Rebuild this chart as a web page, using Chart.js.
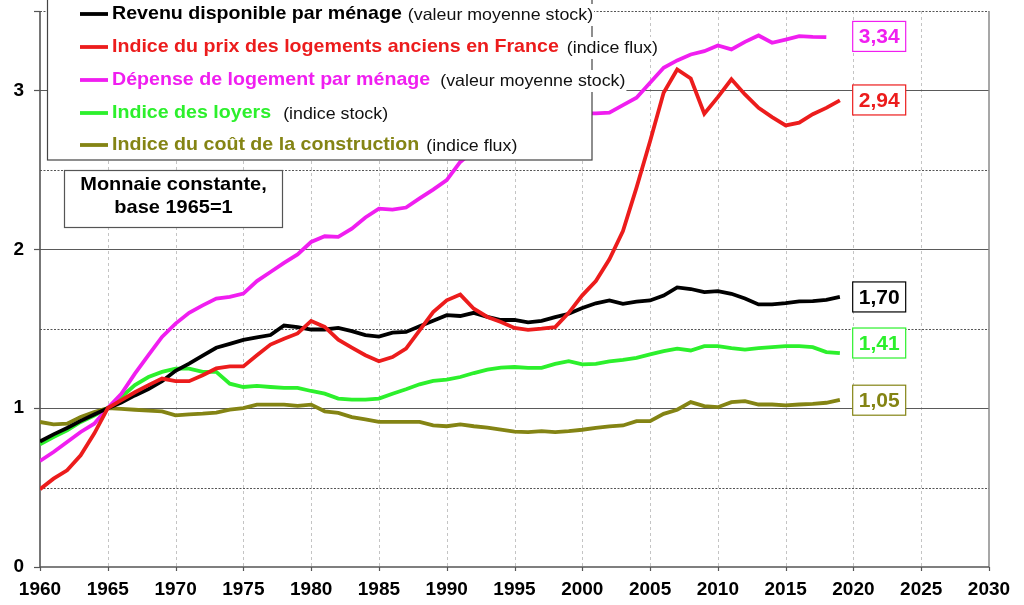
<!DOCTYPE html>
<html><head><meta charset="utf-8">
<script src="https://cdn.jsdelivr.net/npm/chart.js@4.4.0/dist/chart.umd.min.js"></script>
<style>html,body{margin:0;padding:0;background:#fff;overflow:hidden}</style>
</head><body>
<canvas id="c" width="1024" height="605" style="display:block;width:1024px;height:605px"></canvas>
<script>
const years = [1960,1961,1962,1963,1964,1965,1966,1967,1968,1969,
  1970,1971,1972,1973,1974,1975,1976,1977,1978,1979,
  1980,1981,1982,1983,1984,1985,1986,1987,1988,1989,
  1990,1991,1992,1993,1994,1995,1996,1997,1998,1999,
  2000,2001,2002,2003,2004,2005,2006,2007,2008,2009,
  2010,2011,2012,2013,2014,2015,2016,2017,2018,2019];

const revenu = [0.79,0.835,0.875,0.92,0.96,1.00,1.035,1.08,1.12,1.17,
  1.235,1.28,1.33,1.38,1.405,1.43,1.445,1.46,1.52,1.51,
  1.495,1.495,1.505,1.485,1.46,1.45,1.475,1.48,1.515,1.55,
  1.585,1.58,1.60,1.575,1.555,1.556,1.54,1.55,1.573,1.594,
  1.63,1.66,1.678,1.657,1.67,1.678,1.709,1.76,1.75,1.73,
  1.737,1.72,1.69,1.653,1.653,1.661,1.672,1.674,1.682,1.70];

const prix = [0.49,0.556,0.609,0.703,0.84,1.0,1.05,1.10,1.145,1.186,
  1.17,1.17,1.207,1.25,1.263,1.263,1.333,1.40,1.437,1.47,
  1.549,1.511,1.431,1.381,1.333,1.295,1.322,1.375,1.49,1.605,
  1.679,1.715,1.626,1.574,1.542,1.505,1.493,1.50,1.51,1.60,
  1.71,1.80,1.937,2.115,2.388,2.68,2.985,3.132,3.075,2.853,
  2.958,3.07,2.975,2.89,2.832,2.78,2.797,2.85,2.89,2.937];

const depense = [0.667,0.724,0.787,0.85,0.902,1.0,1.09,1.217,1.333,1.448,
  1.532,1.60,1.647,1.69,1.70,1.721,1.80,1.857,1.914,1.968,
  2.046,2.082,2.078,2.13,2.20,2.256,2.25,2.263,2.32,2.376,
  2.435,2.55,2.62,2.67,2.71,2.74,2.77,2.80,2.83,2.85,
  2.855,2.855,2.86,2.908,2.954,3.048,3.143,3.189,3.226,3.247,
  3.283,3.258,3.306,3.346,3.30,3.32,3.342,3.337,3.335,null];

const loyers = [0.772,0.818,0.86,0.913,0.954,1.0,1.07,1.145,1.196,1.228,
  1.249,1.249,1.228,1.228,1.154,1.133,1.14,1.133,1.127,1.127,
  1.108,1.091,1.06,1.054,1.054,1.06,1.091,1.119,1.15,1.171,
  1.179,1.196,1.221,1.242,1.255,1.259,1.254,1.254,1.279,1.296,
  1.275,1.279,1.294,1.304,1.317,1.338,1.359,1.374,1.363,1.39,
  1.39,1.378,1.369,1.378,1.384,1.39,1.39,1.384,1.353,1.346];

const cout = [0.913,0.898,0.902,0.944,0.976,1.0,0.996,0.99,0.985,0.98,
  0.955,0.961,0.965,0.972,0.99,1.0,1.022,1.022,1.022,1.014,
  1.022,0.98,0.97,0.944,0.93,0.913,0.913,0.913,0.913,0.892,
  0.886,0.898,0.886,0.877,0.865,0.852,0.849,0.855,0.849,0.855,
  0.864,0.876,0.885,0.891,0.918,0.918,0.964,0.99,1.038,1.013,
  1.006,1.038,1.044,1.023,1.023,1.017,1.023,1.027,1.034,1.052];

const seriesNames = ['Revenu disponible par ménage','Indice du prix des logements anciens en France','Dépense de logement par ménage','Indice des loyers','Indice du coût de la construction'];
const seriesNotes = ['(valeur moyenne stock)','(indice flux)','(valeur moyenne stock)','(indice stock)','(indice flux)'];
const seriesColors = ['#000000','#ec1c1c','#f01ef0','#2cf02c','#848414'];
const endLabels = ['1,70','2,94','3,34','1,41','1,05'];
const endValues = [1.70, 2.94, 3.34, 1.41, 1.05];
const endLabelYear = 2021.9;
const noteText = ['Monnaie constante,','base 1965=1'];

const seriesData = [revenu, prix, depense, loyers, cout];
const toPts = arr => years.map((yr, i) => ({x: yr, y: arr[i]}));
const FONT = '"Liberation Sans", Arial, Helvetica, sans-serif';

const drawOrder = [1, 0, 2, 3, 4];
const datasets = drawOrder.map((k, j) => ({
  label: seriesNames[k],
  data: toPts(seriesData[k]),
  borderColor: seriesColors[k],
  backgroundColor: seriesColors[k],
  borderWidth: 3.8,
  pointRadius: 0,
  tension: 0,
  fill: false,
  spanGaps: false,
  order: j
}));

// draw text stretched horizontally; returns drawn width
function stretchText(ctx, text, x, y, sx, align) {
  const w = ctx.measureText(text).width * sx;
  let left = x;
  if (align === 'center') left = x - w / 2;
  ctx.save();
  ctx.translate(left, y);
  ctx.scale(sx, 1);
  ctx.textAlign = 'left';
  ctx.fillText(text, 0, 0);
  ctx.restore();
  return w;
}

const gridPlugin = {
  id: 'grid',
  beforeDatasetsDraw(chart) {
    const {ctx, chartArea: a, scales: {x, y}} = chart;
    ctx.save();
    ctx.strokeStyle = '#c4c4c4'; ctx.lineWidth = 1; ctx.setLineDash([3, 3]);
    x.ticks.forEach(t => {
      if (t.value <= x.min || t.value >= x.max) return;
      const px = Math.round(x.getPixelForValue(t.value)) + 0.5;
      ctx.beginPath(); ctx.moveTo(px, a.top); ctx.lineTo(px, a.bottom); ctx.stroke();
    });
    y.ticks.forEach(t => {
      if (t.value <= y.min) return;
      const py = Math.round(y.getPixelForValue(t.value)) + 0.5;
      if (Number.isInteger(t.value)) { ctx.setLineDash([]); ctx.strokeStyle = '#5a5a5a'; ctx.lineWidth = 1.2; }
      else { ctx.setLineDash([2, 1.5]); ctx.strokeStyle = '#555'; ctx.lineWidth = 1; }
      ctx.beginPath(); ctx.moveTo(a.left, py); ctx.lineTo(a.right, py); ctx.stroke();
    });
    ctx.setLineDash([]);
    ctx.strokeStyle = '#8a8a8a'; ctx.lineWidth = 1.5;
    ctx.beginPath(); ctx.moveTo(a.right, a.top); ctx.lineTo(a.right, a.bottom); ctx.stroke();
    ctx.strokeStyle = '#555'; ctx.lineWidth = 1.6;
    ctx.beginPath(); ctx.moveTo(a.left, a.top); ctx.lineTo(a.left, a.bottom); ctx.lineTo(a.right, a.bottom); ctx.stroke();
    ctx.lineWidth = 1.2;
    y.ticks.forEach(t => {
      if (!Number.isInteger(t.value) && t.value !== y.max) return;
      const py = Math.round(y.getPixelForValue(t.value)) + 0.5;
      ctx.beginPath(); ctx.moveTo(a.left - 6, py); ctx.lineTo(a.left, py); ctx.stroke();
    });
    x.ticks.forEach(t => {
      const px = Math.round(x.getPixelForValue(t.value)) + 0.5;
      ctx.beginPath(); ctx.moveTo(px, a.bottom); ctx.lineTo(px, a.bottom + 4); ctx.stroke();
    });
    ctx.restore();
  }
};

const overlayPlugin = {
  id: 'overlay',
  afterDatasetsDraw(chart) {
    const {ctx, scales: {x, y}} = chart;
    ctx.save();
    // legend box
    ctx.fillStyle = '#fff';
    ctx.fillRect(47.5, -5, 544.5, 165);
    ctx.strokeStyle = '#444'; ctx.lineWidth = 1.2;
    ctx.strokeRect(47.5, -5, 544.5, 165);
    const rowY = [14, 47, 80, 113, 145];
    const gaps = [6, 8, 10, 12, 7];
    ctx.textBaseline = 'middle';
    for (let i = 0; i < seriesNames.length; i++) {
      const cy = rowY[i];
      ctx.strokeStyle = seriesColors[i]; ctx.lineWidth = 3.8;
      ctx.beginPath(); ctx.moveTo(80, cy); ctx.lineTo(108, cy); ctx.stroke();
      ctx.font = 'bold 18.5px ' + FONT;
      ctx.fillStyle = seriesColors[i];
      const w = stretchText(ctx, seriesNames[i], 112, cy, 1.06, 'left');
      ctx.font = '16.5px ' + FONT;
      const nx = 112 + w + gaps[i];
      const nw = ctx.measureText(seriesNotes[i]).width * 1.08;
      ctx.fillStyle = '#fff';
      ctx.fillRect(nx - 1, cy - 10, nw + 2, 22);
      ctx.fillStyle = '#111';
      stretchText(ctx, seriesNotes[i], nx, cy + 1, 1.08, 'left');
    }
    // note box
    ctx.fillStyle = '#fff';
    ctx.fillRect(64.5, 170.5, 218, 57);
    ctx.strokeStyle = '#555'; ctx.lineWidth = 1.2;
    ctx.strokeRect(64.5, 170.5, 218, 57);
    ctx.fillStyle = '#000';
    ctx.font = 'bold 18.5px ' + FONT;
    stretchText(ctx, noteText[0], 173.5, 185, 1.08, 'center');
    stretchText(ctx, noteText[1], 173.5, 208, 1.08, 'center');
    // end labels
    ctx.font = 'bold 21px ' + FONT;
    for (let i = 0; i < endLabels.length; i++) {
      const cx = x.getPixelForValue(endLabelYear);
      const cy = y.getPixelForValue(endValues[i]);
      ctx.fillStyle = '#fff';
      ctx.fillRect(cx - 26.5, cy - 15, 53, 30);
      ctx.strokeStyle = seriesColors[i]; ctx.lineWidth = 1.2;
      ctx.strokeRect(cx - 26.5, cy - 15, 53, 30);
      ctx.fillStyle = seriesColors[i];
      ctx.textAlign = 'center';
      ctx.fillText(endLabels[i], cx, cy + 1);
    }
    ctx.restore();
  }
};

new Chart(document.getElementById('c'), {
  type: 'line',
  data: { datasets },
  options: {
    responsive: false,
    animation: false,
    layout: { padding: { top: 11, right: 35, left: 0, bottom: 0 } },
    plugins: { legend: { display: false }, tooltip: { enabled: false } },
    scales: {
      x: {
        type: 'linear', min: 1960, max: 2030,
        ticks: { stepSize: 5, color: '#000', padding: 11, maxRotation: 0,
          font: { family: FONT, size: 19, weight: 'bold' },
          callback: v => String(v) },
        grid: { display: false, drawTicks: false },
        border: { display: false },
        afterFit: s => { s.height = 38; s.paddingLeft = 0; s.paddingRight = 0; }
      },
      y: {
        min: 0, max: 3.5,
        ticks: { stepSize: 0.5, color: '#000', padding: 16,
          font: { family: FONT, size: 19, weight: 'bold' },
          callback: v => Number.isInteger(v) ? String(v) : '' },
        grid: { display: false, drawTicks: false },
        border: { display: false },
        afterFit: s => { s.width = 40; s.paddingTop = 0; s.paddingBottom = 0; }
      }
    }
  },
  plugins: [gridPlugin, overlayPlugin]
});
</script>
</body></html>
